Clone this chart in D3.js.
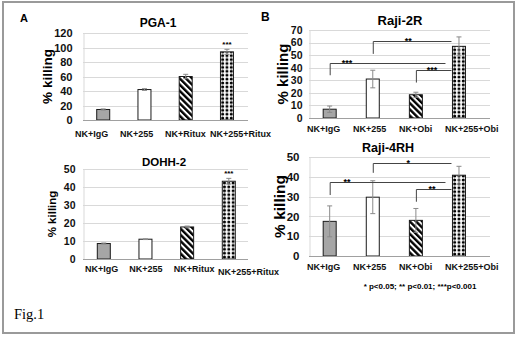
<!DOCTYPE html>
<html>
<head>
<meta charset="utf-8">
<script src="https://cdn.jsdelivr.net/npm/d3@7"></script>
<style>
  body { margin: 0; background: #fff; }
  svg { display: block; font-family: "Liberation Sans", Arial, sans-serif; }
</style>
</head>
<body>
<div id="chart"></div>
<script>
// categories
const ritCats = ['NK+IgG', 'NK+255', 'NK+Ritux', 'NK+255+Ritux'];
const obiCats = ['NK+IgG', 'NK+255', 'NK+Obi', 'NK+255+Obi'];

// % killing (mean) and error
const pgaValues = [14.5, 42, 60, 94];
const pgaErrors = [0.8, 1.2, 3, 3.5];
const dohhValues = [8.6, 11, 17.8, 43.2];
const dohhErrors = [0.3, 0.2, 0.5, 1.6];
const raji2rValues = [7, 31, 18.5, 57];
const raji2rErrors = [2.5, 7, 2, 7.5];
const raji4rhValues = [17.5, 29.7, 18, 40.8];
const raji4rhErrors = [7.8, 8.3, 6, 4.5];

// y ticks
const pgaTicks = [0, 20, 40, 60, 80, 100, 120];
const dohhTicks = [0, 10, 20, 30, 40, 50];
const raji2rTicks = [0, 10, 20, 30, 40, 50, 60, 70];
const raji4rhTicks = [0, 10, 20, 30, 40, 50];

// stars over single bars
const pgaStars = ['', '', '', '***'];
const dohhStars = ['', '', '', '***'];

// significance brackets: [from, to, low, high, label]
const raji2rBrackets = [
  ['NK+IgG', 'NK+255+Obi', 34, 44, '***'],
  ['NK+255', 'NK+255+Obi', 51, 61, '**'],
  ['NK+Obi', 'NK+255+Obi', 28.2, 38.1, '***'],
];
const raji4rhBrackets = [
  ['NK+255', 'NK+255+Obi', 42, 46.8, '*'],
  ['NK+IgG', 'NK+255+Obi', 30.8, 37.2, '**'],
  ['NK+Obi', 'NK+255+Obi', 27.4, 33.7, '**'],
];

const footnote = '* p<0.05; ** p<0.01; ***p<0.001';

let panelCount = 0;

class BarPanel {
  constructor(svg, defs, cfg) {
    this.svg = svg;
    this.defs = defs;
    this.cfg = cfg;
    this.id = panelCount++;
    this.data = cfg.cats.map((c, i) => ({
      cat: c, value: cfg.values[i], err: cfg.errors[i], star: cfg.stars ? cfg.stars[i] : '', i,
    }));
    this.init();
    this.update();
  }

  init() {
    const c = this.cfg;
    this.x = d3.scalePoint().domain(c.cats).range(c.xRange).padding(c.pad).align(c.align);
    this.y = d3.scaleLinear().domain([0, d3.max(c.ticks)]).range(c.yRange);
    this.labelX = d3.scalePoint().domain(c.cats).range(c.labelRange);
    this.bw = 13;
    this.g = this.svg.append('g');

    // dot fill, aligned to the last bar
    const left = this.x(c.cats[c.cats.length - 1]) - this.bw / 2;
    const w = this.bw / 3;
    const h = 3.9;
    const dots = this.defs.append('pattern').attr('id', `dots${this.id}`)
      .attr('patternUnits', 'userSpaceOnUse')
      .attr('x', left).attr('y', this.y(0))
      .attr('width', w).attr('height', h);
    dots.append('rect').attr('width', w).attr('height', h).attr('fill', '#fff');
    dots.append('circle').attr('cx', w / 2).attr('cy', h / 2).attr('r', 1.55).attr('fill', '#000');

    this.fills = ['#a6a6a6', '#ffffff', 'url(#hatch)', `url(#dots${this.id})`];
  }

  update() {
    const { x, y, g, cfg, bw } = this;
    const [x0, x1] = cfg.xRange;

    // grid
    g.selectAll('.grid').data(cfg.ticks.slice(1)).enter().append('line')
      .attr('x1', x0).attr('x2', x1)
      .attr('y1', (d) => Math.round(y(d)) + 0.5).attr('y2', (d) => Math.round(y(d)) + 0.5)
      .attr('stroke', '#d9d9d9').attr('stroke-width', 1);

    // y axis
    const yAxis = d3.axisLeft(y).tickValues(cfg.ticks).tickSize(0).tickPadding(cfg.tickPad);
    const ya = g.append('g').attr('transform', `translate(${x0 + 0.5},0)`).call(yAxis);
    ya.attr('font-family', null).attr('font-size', null);
    ya.select('.domain').attr('stroke', '#d9d9d9');
    ya.selectAll('text').attr('font-size', cfg.tickSize).attr('font-weight', 'bold').attr('fill', '#111');

    // bars
    g.selectAll('.bar').data(this.data).enter().append('rect')
      .attr('x', (d) => x(d.cat) - bw / 2)
      .attr('y', (d) => y(d.value))
      .attr('width', bw)
      .attr('height', (d) => y(0) - y(d.value))
      .attr('fill', (d) => this.fills[d.i])
      .attr('stroke', '#1a1a1a').attr('stroke-width', 1);

    // baseline
    g.append('line').attr('x1', x0).attr('x2', x1)
      .attr('y1', y(0) + 0.5).attr('y2', y(0) + 0.5)
      .attr('stroke', '#a0a0a0').attr('stroke-width', 1.2);

    // error bars
    const eb = g.selectAll('.err').data(this.data).enter().append('g')
      .attr('stroke', '#8a8a8a').attr('stroke-width', 1);
    eb.append('line').attr('x1', (d) => x(d.cat)).attr('x2', (d) => x(d.cat))
      .attr('y1', (d) => y(d.value + d.err)).attr('y2', (d) => y(d.value - d.err));
    eb.append('line').attr('x1', (d) => x(d.cat) - 2.5).attr('x2', (d) => x(d.cat) + 2.5)
      .attr('y1', (d) => y(d.value + d.err)).attr('y2', (d) => y(d.value + d.err));
    eb.append('line').attr('x1', (d) => x(d.cat) - 2.5).attr('x2', (d) => x(d.cat) + 2.5)
      .attr('y1', (d) => y(d.value - d.err)).attr('y2', (d) => y(d.value - d.err));

    // stars
    g.selectAll('.star').data(this.data.filter((d) => d.star)).enter().append('text')
      .attr('x', (d) => x(d.cat)).attr('y', (d) => y(d.value + d.err) - 2)
      .attr('text-anchor', 'middle').attr('font-size', 8).attr('font-weight', 'bold')
      .text((d) => d.star);

    // brackets
    if (cfg.brackets) {
      const endX = (d) => x(d[1]) - bw / 2 - (d[0] === cfg.cats[0] ? 7 : 1);
      const br = g.selectAll('.br').data(cfg.brackets).enter().append('g');
      br.append('path')
        .attr('d', (d) => `M${x(d[0]) + 0.5},${y(d[2])}V${Math.round(y(d[3])) + 0.5}H${endX(d)}`)
        .attr('fill', 'none').attr('stroke', '#444').attr('stroke-width', 1);
      br.append('text')
        .attr('x', (d) => {
          const t = d[0] === cfg.cats[0] ? 0.15 : 0.45;
          return x(d[0]) + t * (endX(d) - x(d[0]));
        })
        .attr('y', (d) => y(d[3]) + 3)
        .attr('text-anchor', 'middle').attr('font-size', 9).attr('font-weight', 'bold')
        .text((d) => d[4]);
    }

    // category labels
    g.selectAll('.cat').data(this.data).enter().append('text')
      .attr('x', (d) => this.labelX(d.cat))
      .attr('y', (d) => cfg.labelY + (cfg.lastDrop && d.i === 3 ? cfg.lastDrop : 0))
      .attr('font-size', 9).attr('font-weight', 'bold').attr('fill', '#111')
      .text((d) => d.cat);

    // title
    g.append('text').attr('x', cfg.titleX).attr('y', cfg.titleY)
      .attr('text-anchor', 'middle').attr('font-size', cfg.titleSize).attr('font-weight', 'bold')
      .text(cfg.title);

    // y label
    g.append('text')
      .attr('transform', `translate(${cfg.yLabelX},${(cfg.yRange[0] + cfg.yRange[1]) / 2}) rotate(-90)`)
      .attr('text-anchor', 'middle').attr('dy', '0.35em')
      .attr('font-size', cfg.yLabelSize).attr('font-weight', 'bold')
      .text('% killing');
  }
}

const svg = d3.select('#chart').append('svg').attr('width', 520).attr('height', 338);
const defs = svg.append('defs');

const hatch = defs.append('pattern').attr('id', 'hatch')
  .attr('patternUnits', 'userSpaceOnUse').attr('width', 4.4).attr('height', 4.4)
  .attr('patternTransform', 'rotate(-45)');
hatch.append('rect').attr('width', 4.4).attr('height', 4.4).attr('fill', '#fff');
hatch.append('rect').attr('width', 2.4).attr('height', 4.4).attr('fill', '#000');

// outer frame
svg.append('rect').attr('x', 3).attr('y', 2).attr('width', 511).attr('height', 331)
  .attr('fill', 'none').attr('stroke', '#9a9a9a').attr('stroke-width', 2);

new BarPanel(svg, defs, {
  title: 'PGA-1', cats: ritCats, values: pgaValues, errors: pgaErrors, stars: pgaStars, ticks: pgaTicks,
  xRange: [83, 248], yRange: [120, 33], pad: 0.5, align: 0.49,
  labelRange: [75, 210], labelY: 136.5,
  titleX: 158, titleY: 27, titleSize: 12, yLabelX: 47.5, yLabelSize: 13.5, tickSize: 11, tickPad: 11,
});
new BarPanel(svg, defs, {
  title: 'DOHH-2', cats: ritCats, values: dohhValues, errors: dohhErrors, stars: dohhStars, ticks: dohhTicks,
  xRange: [83, 248], yRange: [259, 169], pad: 0.48, align: 0.52,
  labelRange: [85, 218], labelY: 272, lastDrop: 3,
  titleX: 164, titleY: 166, titleSize: 11.5, yLabelX: 52, yLabelSize: 11.5, tickSize: 10.5, tickPad: 8,
});
new BarPanel(svg, defs, {
  title: 'Raji-2R', cats: obiCats, values: raji2rValues, errors: raji2rErrors, brackets: raji2rBrackets, ticks: raji2rTicks,
  xRange: [309, 490], yRange: [118, 30], pad: 0.6, align: 0.4,
  labelRange: [307, 445], labelY: 131.5,
  titleX: 400, titleY: 25, titleSize: 13, yLabelX: 283, yLabelSize: 15, tickSize: 10.5, tickPad: 7,
});
new BarPanel(svg, defs, {
  title: 'Raji-4RH', cats: obiCats, values: raji4rhValues, errors: raji4rhErrors, brackets: raji4rhBrackets, ticks: raji4rhTicks,
  xRange: [309, 490], yRange: [256, 157], pad: 0.6, align: 0.4,
  labelRange: [307, 445], labelY: 269.5,
  titleX: 388, titleY: 152, titleSize: 12.5, yLabelX: 280, yLabelSize: 15.5, tickSize: 11.5, tickPad: 10,
});

// panel letters, footnote, figure label
svg.append('text').attr('x', 20).attr('y', 22).attr('font-size', 11).attr('font-weight', 'bold').text('A');
svg.append('text').attr('x', 261).attr('y', 21).attr('font-size', 12).attr('font-weight', 'bold').text('B');
svg.append('text').attr('x', 420).attr('y', 289).attr('text-anchor', 'middle')
  .attr('font-size', 8).attr('font-weight', 'bold').text(footnote);
svg.append('text').attr('x', 14).attr('y', 319).attr('font-size', 14.5)
  .attr('font-family', 'Liberation Serif, Times New Roman, serif').text('Fig.1');
</script>
</body>
</html>
